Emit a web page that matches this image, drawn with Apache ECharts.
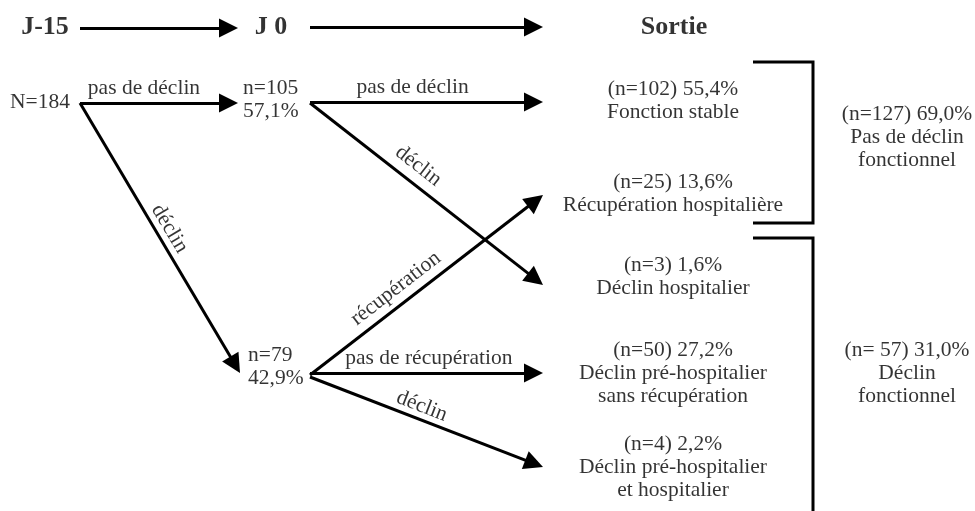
<!DOCTYPE html>
<html><head><meta charset="utf-8">
<script src="https://cdn.jsdelivr.net/npm/echarts@6/dist/echarts.min.js"></script>
<style>html,body{margin:0;padding:0;background:#fff}#c{width:975px;height:511px}</style>
</head><body><div id="c"></div>
<script>
// ---- data ----
const stageLabels = ['J-15', 'J 0', 'Sortie'];
const totalN = 184;
const j0Counts = [105, 79];
const j0Pct = ['57,1%', '42,9%'];
const outcomeCounts = [102, 25, 3, 50, 4];
const outcomePct = ['55,4%', '13,6%', '1,6%', '27,2%', '2,2%'];
const outcomeNames = ['Fonction stable', 'Récupération hospitalière', 'Déclin hospitalier',
  'Déclin pré-hospitalier\nsans récupération', 'Déclin pré-hospitalier\net hospitalier'];
const groupCounts = ['127', ' 57'];
const groupPct = ['69,0%', '31,0%'];
const groupNames = ['Pas de déclin\nfonctionnel', 'Déclin\nfonctionnel'];
const edgeLabels = ['pas de déclin', 'déclin', 'pas de déclin', 'déclin', 'récupération', 'pas de récupération', 'déclin'];

// ---- layout (diagram positions, in chart units) ----
const stagePos = [[45, 27], [271, 27], [674, 27]];
const stageArrows = [[[80, 28], [238, 28]], [[310, 27], [543, 27]]];
const startPos = [70, 102];
const j0Pos = [[243, 100], [248, 367]];
const outPos = [[673, 100.5], [673, 193.5], [673, 276.5], [673, 373], [673, 467]];
const groupPos = [[907, 137], [907, 373]];
const bracketPaths = [[[753, 62], [813, 62], [813, 223], [753, 223]], [[753, 238], [813, 238], [813, 520]]];
const edgeGeom = [
  { a: [80, 103], b: [238, 103], t: 0.405, d: 15 },
  { a: [80, 103], b: [240, 373], t: 0.49, d: 13 },
  { a: [310, 102], b: [543, 102], t: 0.44, d: 15 },
  { a: [310, 103], b: [543, 285], t: 0.42, d: 17 },
  { a: [310, 375], b: [543, 195], t: 0.41, d: 16 },
  { a: [310, 373], b: [543, 373], t: 0.51, d: 15 },
  { a: [310, 377], b: [543, 467], t: 0.46, d: 13 }
];

const FONT = 'Liberation Serif';
const FS = 21.5;
const HEAD = 19;

function shorten(a, b, by) {
  const dx = b[0] - a[0], dy = b[1] - a[1], l = Math.hypot(dx, dy);
  return [b[0] - dx / l * by, b[1] - dy / l * by];
}
function arrowData(a, b) { return { coords: [a, shorten(a, b, HEAD / 2)] }; }

const arrows = stageArrows.map(s => arrowData(s[0], s[1])).concat(edgeGeom.map(e => arrowData(e.a, e.b)));

const edgeLabelData = edgeGeom.map((e, i) => {
  const dx = e.b[0] - e.a[0], dy = e.b[1] - e.a[1], l = Math.hypot(dx, dy);
  const ux = dx / l, uy = dy / l;
  const px = e.a[0] + dx * e.t + uy * e.d;
  const py = e.a[1] + dy * e.t - ux * e.d;
  return {
    value: [px, py],
    label: { formatter: edgeLabels[i], rotate: -Math.atan2(dy, dx) * 180 / Math.PI }
  };
});

const textData = [];
stageLabels.forEach((s, i) => textData.push({ value: stagePos[i], label: { formatter: s, fontWeight: 'bold', fontSize: 26 } }));
textData.push({ value: startPos, label: { formatter: 'N=' + totalN, align: 'right' } });
j0Counts.forEach((n, i) => textData.push({ value: j0Pos[i], label: { formatter: 'n=' + n + '\n' + j0Pct[i], align: 'left', lineHeight: 23 } }));
outcomeCounts.forEach((n, i) => textData.push({ value: outPos[i], label: { formatter: '(n=' + n + ') ' + outcomePct[i] + '\n' + outcomeNames[i] } }));
groupCounts.forEach((n, i) => textData.push({ value: groupPos[i], label: { formatter: '(n=' + n + ') ' + groupPct[i] + '\n' + groupNames[i] } }));

const baseLabel = { show: true, position: 'inside', color: '#000', fontFamily: FONT, fontSize: FS, lineHeight: 23, align: 'center', verticalAlign: 'middle' };

const chart = echarts.init(document.getElementById('c'), null, { renderer: 'canvas' });
chart.setOption({
  animation: false,
  backgroundColor: '#fff',
  grid: { left: 0, right: 0, top: 0, bottom: 0 },
  xAxis: { type: 'value', min: 0, max: 975, show: false },
  yAxis: { type: 'value', min: 0, max: 511, inverse: true, show: false },
  series: [
    {
      type: 'lines', coordinateSystem: 'cartesian2d', silent: true,
      symbol: ['none', 'triangle'], symbolSize: HEAD,
      lineStyle: { color: '#000', width: 3, opacity: 1 },
      itemStyle: { color: '#000' },
      data: arrows
    },
    {
      type: 'lines', coordinateSystem: 'cartesian2d', polyline: true, silent: true,
      symbol: 'none',
      lineStyle: { color: '#000', width: 3, opacity: 1, join: 'miter', cap: 'butt' },
      data: bracketPaths.map(p => ({ coords: p }))
    },
    {
      type: 'scatter', symbolSize: 0, silent: true,
      label: baseLabel,
      data: edgeLabelData
    },
    {
      type: 'scatter', symbolSize: 0, silent: true,
      label: baseLabel,
      data: textData
    }
  ]
});
</script></body></html>
